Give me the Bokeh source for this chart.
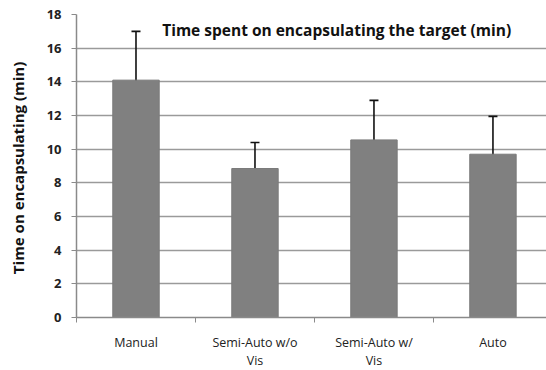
from bokeh.plotting import figure
from bokeh.models import ColumnDataSource, Whisker, TeeHead, FixedTicker, LinearAxis, Label, Range1d
from bokeh.embed import file_html
from bokeh.resources import INLINE

categories = ["Manual", "Semi-Auto w/o\nVis", "Semi-Auto w/\nVis", "Auto"]
means = [14.1, 8.85, 10.55, 9.7]
upper = [17.0, 10.4, 12.9, 11.95]
lower = [11.25, 7.2, 8.35, 7.35]
y_ticks = [0, 2, 4, 6, 8, 10, 12, 14, 16, 18]
title_text = "Time spent on encapsulating the target (min)"
y_label = "Time on encapsulating  (min)"

FONT = "Open Sans"
xs = [i + 0.5 for i in range(len(categories))]
src = ColumnDataSource(dict(x=xs, top=means, upper=upper, lower=lower))

p = figure(frame_width=470, frame_height=303, output_backend="svg", toolbar_location=None,
           x_range=Range1d(0, 3.95), y_range=Range1d(0, 18),
           min_border_left=76, min_border_right=0, min_border_top=14, min_border_bottom=6)
p.outline_line_color = None
p.background_fill_color = "white"
p.border_fill_color = "white"

p.vbar(x="x", top="top", width=0.39, source=src, fill_color="#808080", line_color="#7a7a7a")

w = Whisker(base="x", upper="upper", lower="lower", source=src, line_color="#111111", line_width=1.6,
            upper_head=TeeHead(size=9, line_color="#111111", line_width=1.6),
            lower_head=TeeHead(size=9, line_color="#111111", line_width=1.6))
p.add_layout(w)

# x axis: tick marks at category boundaries
p.xaxis.ticker = FixedTicker(ticks=[0, 1, 2, 3, 4])
p.xaxis.major_label_text_font_size = "0px"
p.xaxis.major_label_text_alpha = 0
p.xaxis.major_label_standoff = 0
p.xaxis.major_tick_out = 5
p.xaxis.major_tick_in = 0
p.xaxis.minor_tick_line_color = None
p.xaxis.axis_line_color = "#8a8a8a"
p.xaxis.major_tick_line_color = "#8a8a8a"
p.xaxis.axis_line_width = 1.5
p.xgrid.grid_line_color = None

lab_axis = LinearAxis(ticker=FixedTicker(ticks=xs),
                      major_label_overrides={x: c for x, c in zip(xs, categories)})
lab_axis.axis_line_color = None
lab_axis.major_tick_line_color = None
lab_axis.minor_tick_line_color = None
lab_axis.major_label_standoff = 5
lab_axis.major_label_text_font = FONT
lab_axis.major_label_text_font_size = "12.5px"
lab_axis.major_label_text_line_height = 1.1
lab_axis.major_label_text_color = "#222222"
p.add_layout(lab_axis, "below")

# y axis
p.yaxis.ticker = FixedTicker(ticks=y_ticks)
p.yaxis.major_label_text_font = FONT
p.yaxis.major_label_text_font_style = "bold"
p.yaxis.major_label_text_font_size = "13px"
p.yaxis.major_label_text_color = "#222222"
p.yaxis.major_tick_out = 5
p.yaxis.major_tick_in = 0
p.yaxis.minor_tick_line_color = None
p.yaxis.axis_line_color = "#8a8a8a"
p.yaxis.major_tick_line_color = "#8a8a8a"
p.yaxis.axis_line_width = 1.5
p.yaxis.major_label_standoff = 10
p.yaxis.axis_label = y_label
p.yaxis.axis_label_text_font = FONT
p.yaxis.axis_label_text_font_style = "bold"
p.yaxis.axis_label_text_font_size = "15px"
p.yaxis.axis_label_text_color = "#111111"
p.yaxis.axis_label_standoff = 16
p.ygrid.grid_line_color = "#9a9a9a"
p.ygrid.grid_line_width = 1.5

p.add_layout(Label(x=0.72, y=17.05, text=title_text,
                   text_font=FONT, text_font_style="bold", text_font_size="15.5px",
                   text_color="#111111", text_baseline="middle"))

open("out.html", "w").write(file_html(p, INLINE))
